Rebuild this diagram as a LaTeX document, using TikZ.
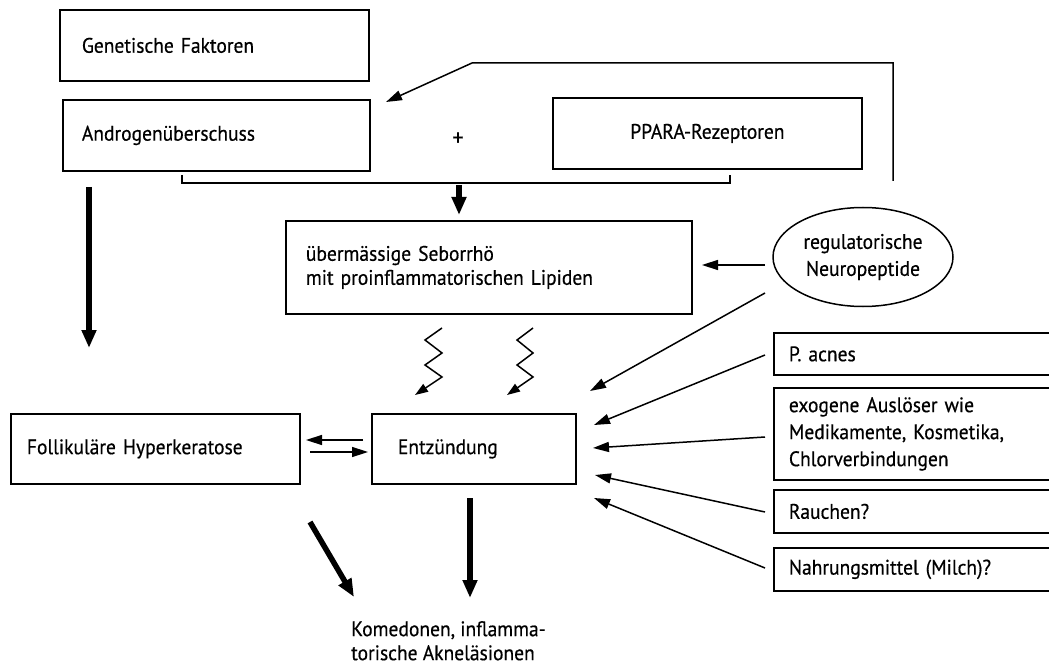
\documentclass[tikz,border=0pt]{standalone}
\usepackage{fontspec}
\setmainfont{PT Sans}[FakeStretch=0.93,FakeBold=0.5]
\usetikzlibrary{arrows.meta,shapes.geometric}
\begin{document}
\begin{tikzpicture}[x=1pt,y=-1pt,
  txt/.style={font=\fontsize{21}{24}\selectfont},
  box/.style={txt,draw,line width=1.8pt,inner ysep=0pt,align=left,anchor=north west},
  thinarr/.style={line width=1.5pt,-{Triangle[length=16pt,width=10pt]}},
  zigarr/.style={line width=1.5pt,line join=miter,-{Triangle[length=13pt,width=9pt]}},
  thickarr/.style={line width=5.5pt,-{Triangle[length=18pt,width=14pt]}},
  link/.style={line width=1.5pt}]
\useasboundingbox (0,0) rectangle (1049,668);
\clip (0,0) rectangle (1049,668);
% boxes
\node[box,minimum width=309pt,minimum height=71pt,inner xsep=22pt,text width=265pt] (gen) at (59,9) {Genetische Faktoren};
\node[box,minimum width=307pt,minimum height=71pt,inner xsep=19pt,text width=269pt] (andro) at (62,99) {Androgenüberschuss};
\node[txt,font=\fontsize{24}{24}\selectfont] (plus) at (458,139) {+};
\node[box,minimum width=309pt,minimum height=71pt,inner xsep=10pt,text width=289pt,align=center] (ppara) at (552,97) {PPARA-Rezeptoren};
\node[box,minimum width=406pt,minimum height=93pt,inner xsep=20pt,text width=366pt] (sebo) at (285,220) {übermässige Seborrhö\\mit proinflammatorischen Lipiden};
\node[txt,draw,line width=1.5pt,ellipse,minimum width=180pt,minimum height=99pt,inner sep=0pt,align=center,font=\fontsize{21}{27}\selectfont] (neuro) at (863,257) {regulatorische\\Neuropeptide};
\node[box,minimum width=289pt,minimum height=70pt,inner xsep=16pt,text width=257pt] (foll) at (10,413) {Follikuläre Hyperkeratose};
\node[box,minimum width=204pt,minimum height=70pt,inner xsep=26pt,text width=152pt] (entz) at (371,413) {Entzündung};
\node[box,minimum width=300pt,minimum height=42pt,inner xsep=15pt,text width=270pt] (pac) at (773,332) {P. acnes};
\node[box,minimum width=300pt,minimum height=92pt,inner xsep=15pt,text width=270pt,font=\fontsize{21}{27}\selectfont] (exo) at (773,387) {exogene Auslöser wie\\Medikamente, Kosmetika,\\Chlorverbindungen};
\node[box,minimum width=300pt,minimum height=43pt,inner xsep=15pt,text width=270pt] (rauch) at (773,489) {Rauchen?};
\node[box,minimum width=300pt,minimum height=43pt,inner xsep=15pt,text width=270pt] (nahr) at (773,547) {Nahrungsmittel (Milch)?};
\node[txt,anchor=north west,align=left,inner sep=0pt] (kom) at (351,621) {Komedonen, inflamma-\\torische Akneläsionen};
% coordinates
\coordinate (brL) at (182,175);
\coordinate (brR) at (730,175);
\coordinate (brM) at (459,185);
\coordinate (fb) at (893,181);
\coordinate (fbE) at (386,102);
% bracket and arrow to sebo
\draw[link] (brL) -- ++(0,8) -| (brR);
\draw[thickarr] (brM) -- ([yshift=5pt]sebo.north -| brM);
% feedback line
\draw[thinarr,line join=miter] (fb) -- (893,63) -- (472,63) -- (fbE);
% left thick arrow
\draw[thickarr] (89,187) -- (89,348);
% neuropeptide arrows
\draw[thinarr] (765,265) -- (702,265);
\draw[thinarr] (765,293) -- (590,391);
% zigzags
\draw[zigarr] (442,328) -- (425,340) -- (442,353) -- (425,365) -- (442,377) -- (415,395);
\draw[zigarr] (533,328) -- (517,340) -- (533,353) -- (517,365) -- (533,377) -- (507,395);
% between foll and entz
\draw[thinarr] (363,440) -- (306,440);
\draw[thinarr] (310,452) -- (368,452);
% right arrows
\draw[thinarr] (765,355) -- (594,425);
\draw[thinarr] (765,437) -- (593,448);
\draw[thinarr] (765,512) -- (595,475);
\draw[thinarr] (765,568) -- (594,498);
% bottom arrows
\draw[thickarr] (310,522) -- (354,597);
\draw[thickarr] (470,498) -- (470,598);
\end{tikzpicture}
\end{document}
